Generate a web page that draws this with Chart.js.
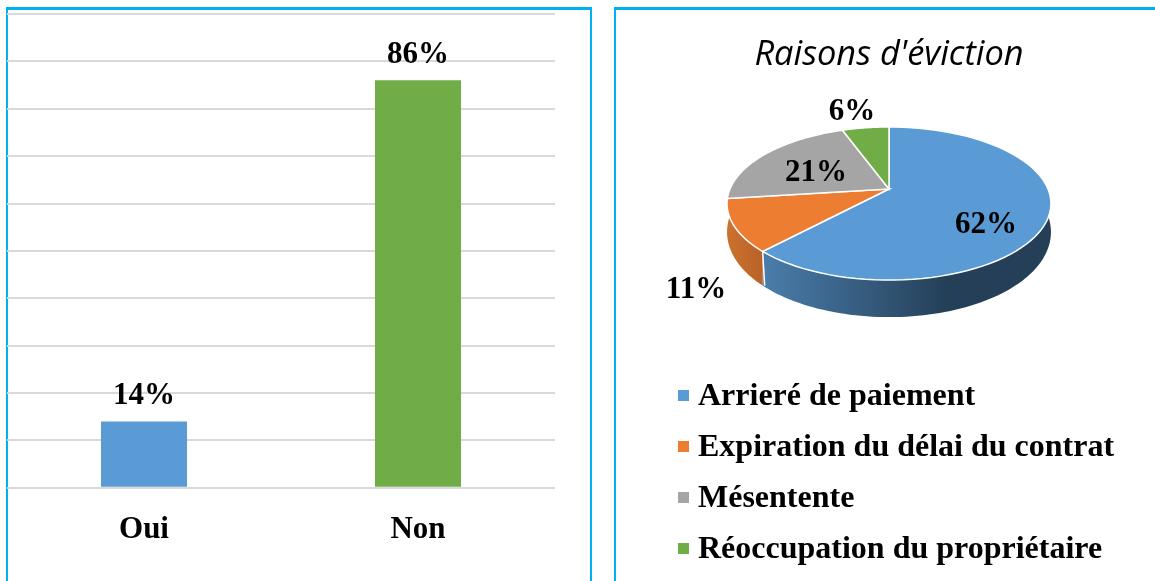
<!DOCTYPE html>
<html lang="fr">
<head>
<meta charset="utf-8">
<title>Éviction</title>
<script src="https://cdn.jsdelivr.net/npm/chart.js@4"></script>
<style>
html, body { margin: 0; padding: 0; background: #fff; overflow: hidden; }
body { position: relative; width: 1155px; height: 581px; }
.frame { position: absolute; top: 7px; height: 590px; border: 2px solid #00b0f0; border-top-width: 3px; box-sizing: border-box; }
#frameLeft { left: 6px; width: 586px; }
#frameRight { left: 614px; width: 600px; }
canvas { position: absolute; top: 0; }
#barCanvas { left: 0; }
#pieCanvas { left: 661px; }
</style>
</head>
<body>
<div class="frame" id="frameLeft"></div>
<div class="frame" id="frameRight"></div>
<canvas id="barCanvas" width="590" height="581"></canvas>
<canvas id="pieCanvas" width="494" height="581"></canvas>
<script>
// bar chart data
const barLabels = ['Oui', 'Non'];
const barValues = [14, 86];
const barColors = ['#5b9bd5', '#70ad47'];

// pie chart data
const pieTitle = "Raisons d'éviction";
const pieLabels = ['Arrieré de paiement', 'Expiration du délai du contrat', 'Mésentente', 'Réoccupation du propriétaire'];
const pieValues = [62, 11, 21.4, 5.6];
const pieColors = ['#5b9bd5', '#ed7d31', '#a5a5a5', '#70ad47'];

const serifBold = 'bold 31px "Liberation Serif"';

// value labels above the bars
const barLabelPlugin = {
    id: 'barLabels',
    afterDatasetsDraw(chart) {
        const ctx = chart.ctx;
        ctx.save();
        ctx.font = serifBold;
        ctx.fillStyle = '#000';
        ctx.textAlign = 'center';
        ctx.textBaseline = 'middle';
        chart.getDatasetMeta(0).data.forEach(function(bar, i) {
            ctx.fillText(barValues[i] + '%', bar.x, bar.y - 25);
        });
        ctx.restore();
    }
};

new Chart(document.getElementById('barCanvas'), {
    type: 'bar',
    data: {
        labels: barLabels,
        datasets: [{
            data: barValues,
            backgroundColor: barColors,
            categoryPercentage: 0.314,
            barPercentage: 1
        }]
    },
    options: {
        responsive: false,
        animation: false,
        layout: { padding: { left: 7, right: 35, top: 14, bottom: 16 } },
        plugins: { legend: { display: false }, tooltip: { enabled: false } },
        scales: {
            x: {
                grid: { display: false },
                border: { display: false },
                ticks: { color: '#000', padding: 16, font: { family: 'Liberation Serif', size: 31, weight: 'bold' } }
            },
            y: {
                min: 0,
                max: 100,
                afterFit: function(axis) { axis.width = 0; },
                grid: { color: '#d9d9d9', lineWidth: 2, drawTicks: false },
                border: { display: false },
                ticks: { display: false, stepSize: 10 }
            }
        }
    },
    plugins: [barLabelPlugin]
});

// tilted pie, the slices come from the library's arc elements and are
// projected with a simple perspective so the near side looks bigger
const pieCenterY = 189;
const pieTilt = 0.4642;
const piePersp = 0.19;
const pieDepth = 37;
const pieLabelOffsets = [[97, 36], [-193, 101], [-73, -16], [-37, -77]];

function project(arc, angle, r) {
    const u = Math.cos(angle) * r;
    const v = Math.sin(angle) * r;
    const w = 1 - piePersp * v;
    return {
        x: arc.x + arc.outerRadius * u / w,
        y: pieCenterY + arc.outerRadius * pieTilt * v / w
    };
}

// the lower ring sits a bit less far down at the sides than at the front
function rimDrop(angle) {
    return pieDepth * (0.715 + 0.285 * Math.sin(angle));
}

function rimPath(ctx, arc, from, to, lower) {
    const steps = 80;
    for (let i = 0; i <= steps; i++) {
        const a = from + (to - from) * i / steps;
        const p = project(arc, a, 1);
        ctx.lineTo(p.x, p.y + (lower ? rimDrop(a) : 0));
    }
}

function sideWall(ctx, arc, from, to, gradient) {
    ctx.beginPath();
    rimPath(ctx, arc, from, to, false);
    rimPath(ctx, arc, to, from, true);
    ctx.closePath();
    ctx.fillStyle = gradient;
    ctx.fill();
}

// legend square as a small canvas so it can sit off the text's centre line
function legendMarker(color) {
    const c = document.createElement('canvas');
    c.width = 22;
    c.height = 22;
    const g = c.getContext('2d');
    g.fillStyle = color;
    g.fillRect(8, 4, 11, 11);
    return c;
}

const pie3dPlugin = {
    id: 'pie3d',
    beforeDatasetsDraw(chart) {
        const ctx = chart.ctx;
        const arcs = chart.getDatasetMeta(0).data;
        const blue = arcs[0];
        const orange = arcs[1];

        // side walls on the near half
        const blueGrad = ctx.createLinearGradient(blue.x - 126, 0, blue.x + 60, 0);
        blueGrad.addColorStop(0, '#4a7dab');
        blueGrad.addColorStop(1, '#243f57');
        sideWall(ctx, blue, 0, blue.endAngle, blueGrad);

        const orangeGrad = ctx.createLinearGradient(orange.x - 162, 0, orange.x - 126, 0);
        orangeGrad.addColorStop(0, '#cc722f');
        orangeGrad.addColorStop(1, '#b96228');
        sideWall(ctx, orange, orange.startAngle, Math.PI, orangeGrad);

        // white edge between the two walls
        const edge = project(blue, blue.endAngle, 1);
        ctx.strokeStyle = '#fff';
        ctx.lineWidth = 1.5;
        ctx.beginPath();
        ctx.moveTo(edge.x, edge.y);
        ctx.lineTo(edge.x + 2, edge.y + rimDrop(blue.endAngle));
        ctx.stroke();

        // top faces
        arcs.forEach(function(arc, i) {
            const apex = project(arc, 0, 0);
            ctx.beginPath();
            ctx.moveTo(apex.x, apex.y);
            rimPath(ctx, arc, arc.startAngle, arc.endAngle, false);
            ctx.closePath();
            ctx.fillStyle = pieColors[i];
            ctx.fill();
            ctx.strokeStyle = '#fff';
            ctx.lineWidth = 1.5;
            ctx.stroke();
        });

        // labels
        ctx.save();
        ctx.font = serifBold;
        ctx.fillStyle = '#000';
        ctx.textAlign = 'center';
        ctx.textBaseline = 'middle';
        arcs.forEach(function(arc, i) {
            ctx.fillText(Math.round(pieValues[i]) + '%', arc.x + pieLabelOffsets[i][0], pieCenterY + pieLabelOffsets[i][1]);
        });
        ctx.restore();
        return false;
    }
};

new Chart(document.getElementById('pieCanvas'), {
    type: 'pie',
    data: {
        labels: pieLabels,
        datasets: [{ data: pieValues, backgroundColor: pieColors, borderWidth: 0 }]
    },
    options: {
        responsive: false,
        animation: false,
        radius: 159,
        layout: { padding: { left: 0, right: 38, top: 35, bottom: 5 } },
        plugins: {
            tooltip: { enabled: false },
            title: {
                display: true,
                text: pieTitle,
                fullSize: false,
                color: '#000',
                padding: { top: 0, bottom: 6 },
                font: { family: 'Open Sans', size: 34.4, style: 'italic', weight: 'normal' }
            },
            legend: {
                position: 'bottom',
                align: 'start',
                labels: {
                    color: '#000',
                    font: { family: 'Liberation Serif', size: 32, weight: 'bold' },
                    boxWidth: 2,
                    boxHeight: 11,
                    padding: 19,
                    usePointStyle: true,
                    generateLabels: function(chart) {
                        const items = Chart.overrides.pie.plugins.legend.labels.generateLabels(chart);
                        items.forEach(function(item, i) {
                            item.pointStyle = legendMarker(pieColors[i]);
                        });
                        return items;
                    }
                }
            }
        }
    },
    plugins: [pie3dPlugin]
});
</script>
</body>
</html>
